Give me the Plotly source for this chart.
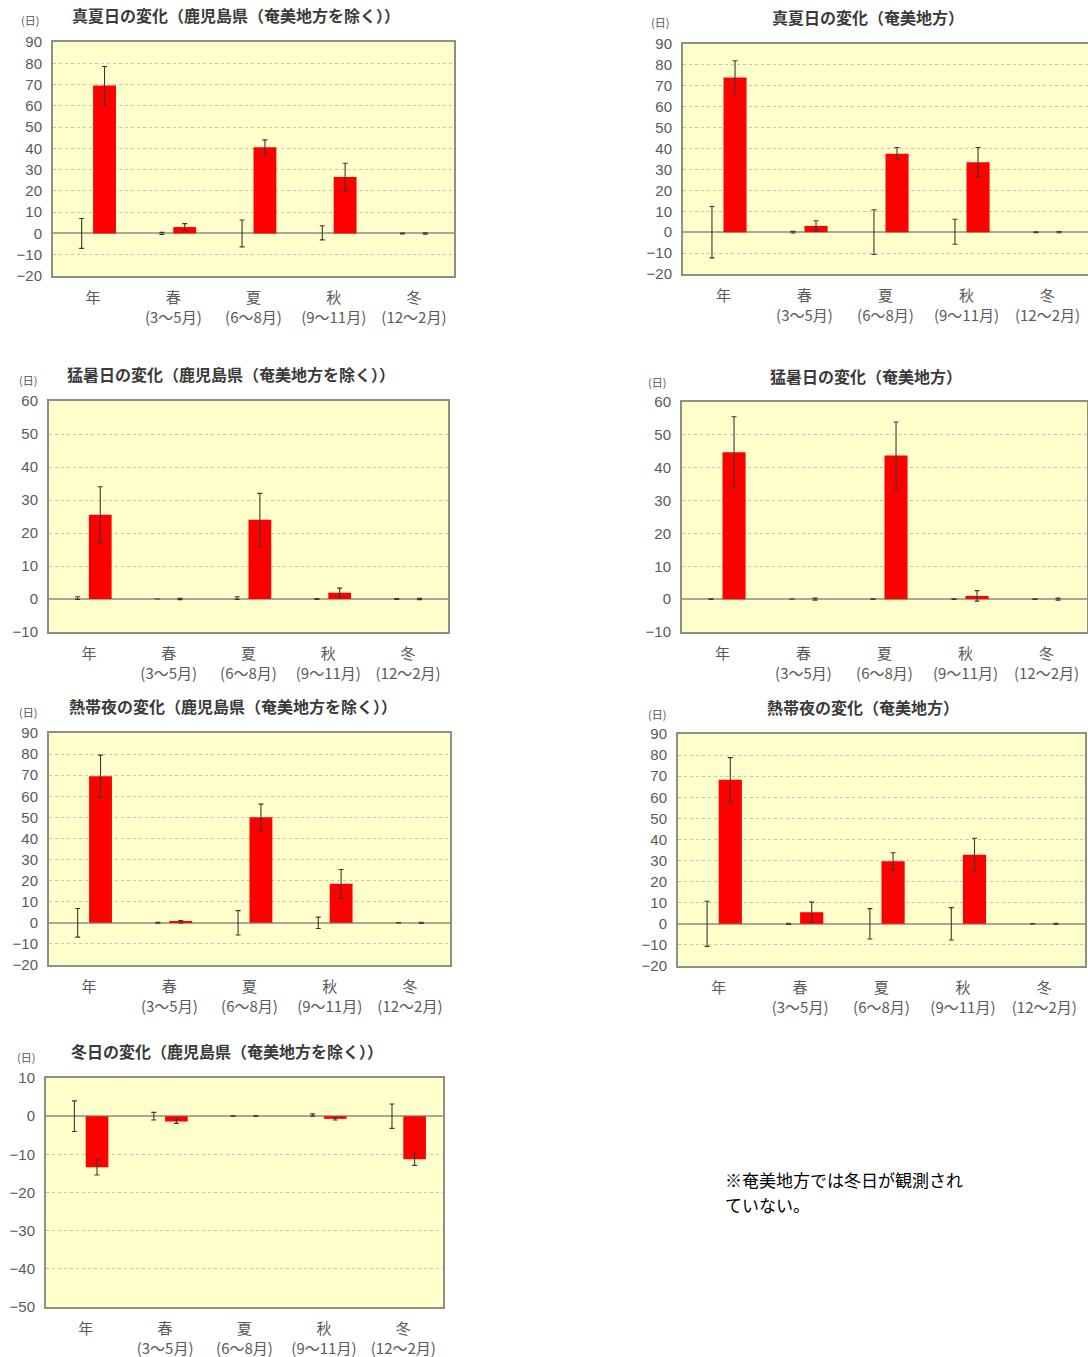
import plotly.graph_objects as go

# ---- categories (x axis) ----
categories = ["年", "春<br>(3～5月)", "夏<br>(6～8月)", "秋<br>(9～11月)", "冬<br>(12～2月)"]

# ---- 真夏日 : 鹿児島県（奄美地方を除く） ----
manatsu_kago_base = [0, 0, 0, 0.3, 0]
manatsu_kago_base_err = [7, 0.5, 6.3, 3.3, 0.2]
manatsu_kago_change = [69.5, 3, 40.5, 26.5, 0]
manatsu_kago_change_err = [9, 1.6, 3.5, 6.5, 0.3]

# ---- 真夏日 : 奄美地方 ----
manatsu_amami_base = [0, 0, 0, 0.2, 0]
manatsu_amami_base_err = [12.3, 0.4, 10.7, 6, 0.2]
manatsu_amami_change = [74, 3, 37.5, 33.5, 0]
manatsu_amami_change_err = [8, 2.5, 3, 7, 0.3]

# ---- 猛暑日 : 鹿児島県（奄美地方を除く） ----
mousho_kago_base = [0.3, 0, 0.3, 0, 0]
mousho_kago_base_err = [0.4, 0, 0.4, 0.1, 0.1]
mousho_kago_change = [25.5, 0, 24, 1.9, 0]
mousho_kago_change_err = [8.5, 0.2, 8, 1.4, 0.2]

# ---- 猛暑日 : 奄美地方 ----
mousho_amami_base = [0, 0, 0, 0, 0]
mousho_amami_base_err = [0.1, 0, 0.1, 0.1, 0.1]
mousho_amami_change = [44.7, 0, 43.7, 1, 0]
mousho_amami_change_err = [10.8, 0.3, 10.2, 1.6, 0.3]

# ---- 熱帯夜 : 鹿児島県（奄美地方を除く） ----
nettai_kago_base = [0, 0, 0, 0, 0]
nettai_kago_base_err = [6.8, 0.2, 5.8, 2.7, 0.1]
nettai_kago_change = [69.5, 0.5, 50, 18.5, 0]
nettai_kago_change_err = [10, 0.6, 6.3, 6.8, 0.3]

# ---- 熱帯夜 : 奄美地方 ----
nettai_amami_base = [0, 0, 0, 0, 0]
nettai_amami_base_err = [10.7, 0.3, 7.2, 7.7, 0.1]
nettai_amami_change = [68.3, 5.5, 29.7, 32.7, 0]
nettai_amami_change_err = [10.5, 4.8, 4, 7.9, 0.3]

# ---- 冬日 : 鹿児島県（奄美地方を除く） ----
fuyubi_kago_base = [0, 0, 0, 0.3, 0]
fuyubi_kago_base_err = [4, 1, 0.1, 0.3, 3.2]
fuyubi_kago_change = [-13.4, -1.4, 0, -0.7, -11.3]
fuyubi_kago_change_err = [2, 0.5, 0.1, 0.3, 1.6]

titles = [
    "真夏日の変化（鹿児島県（奄美地方を除く））",
    "真夏日の変化（奄美地方）",
    "猛暑日の変化（鹿児島県（奄美地方を除く））",
    "猛暑日の変化（奄美地方）",
    "熱帯夜の変化（鹿児島県（奄美地方を除く））",
    "熱帯夜の変化（奄美地方）",
    "冬日の変化（鹿児島県（奄美地方を除く））",
]
unit_label = "(日)"
note_lines = ["※奄美地方では冬日が観測され", "ていない。"]

series = [
    (manatsu_kago_base, manatsu_kago_base_err, manatsu_kago_change, manatsu_kago_change_err),
    (manatsu_amami_base, manatsu_amami_base_err, manatsu_amami_change, manatsu_amami_change_err),
    (mousho_kago_base, mousho_kago_base_err, mousho_kago_change, mousho_kago_change_err),
    (mousho_amami_base, mousho_amami_base_err, mousho_amami_change, mousho_amami_change_err),
    (nettai_kago_base, nettai_kago_base_err, nettai_kago_change, nettai_kago_change_err),
    (nettai_amami_base, nettai_amami_base_err, nettai_amami_change, nettai_amami_change_err),
    (fuyubi_kago_base, fuyubi_kago_base_err, fuyubi_kago_change, fuyubi_kago_change_err),
]
y_ranges = [[-20, 90], [-20, 90], [-10, 60], [-10, 60], [-20, 90], [-20, 90], [-50, 10]]

# ---- page geometry (pixels) ----
W, H = 1088, 1357
# plot boxes: left, right, top, bottom
boxes = [
    (53, 454, 42, 276),
    (683, 1088, 44, 274),
    (49, 448, 401, 632),
    (682, 1087, 402, 632),
    (49, 450, 733, 965),
    (678, 1085, 734, 966),
    (46, 443, 1078, 1307),
]
title_pos = [(236, 15), (868, 17), (231, 374), (866, 376), (233, 706), (863, 707), (227, 1051)]
unit_pos = [(30, 20), (660, 22), (28, 380), (657, 382), (28, 712), (657, 714), (26, 1057)]
note_pos = [(723, 1179), (723, 1204)]


def fx(x):
    return x / W


def fy(y):
    return 1 - y / H


fig = go.Figure()
annotations = []
layout = {}

err_style = dict(type="data", symmetric=True, color="#3a3a30", thickness=1.1, width=2.5)

for i, ((base, base_err, change, change_err), box) in enumerate(zip(series, boxes)):
    n = i + 1
    xa = "x" if n == 1 else f"x{n}"
    ya = "y" if n == 1 else f"y{n}"
    fig.add_trace(go.Bar(
        x=categories, y=base, xaxis=xa, yaxis=ya,
        marker=dict(color="rgba(0,0,0,0)", line=dict(width=0)),
        error_y=dict(array=base_err, **err_style),
        showlegend=False, hoverinfo="skip",
    ))
    fig.add_trace(go.Bar(
        x=categories, y=change, xaxis=xa, yaxis=ya,
        marker=dict(color="#ff0000", line=dict(width=0)),
        error_y=dict(array=change_err, **err_style),
        showlegend=False,
    ))
    l, r, t, b = box
    ax_common = dict(showline=True, mirror=True, linecolor="#8f8f86", linewidth=2,
                     automargin=False, fixedrange=True)
    layout[f"xaxis{'' if n == 1 else n}"] = dict(
        domain=[fx(l), fx(r)], anchor=ya,
        tickfont=dict(family="Noto Sans CJK JP", size=15, color="#5a5a5a"),
        ticks="", ticklabelstandoff=7, tickangle=0, showgrid=False, **ax_common,
    )
    layout[f"yaxis{'' if n == 1 else n}"] = dict(
        domain=[fy(b), fy(t)], anchor=xa, range=y_ranges[i], dtick=10,
        tickfont=dict(family="Liberation Sans", size=15, color="#5a5a5a"),
        ticks="", ticklabelstandoff=6,
        showgrid=True, gridcolor="#c6c6b0", gridwidth=1, griddash="3px,3px",
        zeroline=True, zerolinecolor="#a9a894", zerolinewidth=1.5,
        **ax_common,
    )
    # yellow plotting area
    fig.add_shape(type="rect", xref="paper", yref="paper",
                  x0=fx(l), x1=fx(r), y0=fy(b), y1=fy(t),
                  fillcolor="#ffffcc", line=dict(width=0), layer="below")
    tx, ty = title_pos[i]
    annotations.append(dict(
        x=fx(tx), y=fy(ty), xref="paper", yref="paper", text=f"<b>{titles[i]}</b>",
        showarrow=False, xanchor="center", yanchor="middle",
        font=dict(family="Noto Sans CJK JP", size=16, color="#3a3a3a"),
    ))
    ux, uy = unit_pos[i]
    annotations.append(dict(
        x=fx(ux), y=fy(uy), xref="paper", yref="paper", text=unit_label,
        showarrow=False, xanchor="center", yanchor="middle",
        font=dict(family="Noto Sans CJK JP", size=11, color="#555555"),
    ))

for line, (nx, ny) in zip(note_lines, note_pos):
    annotations.append(dict(
        x=fx(nx), y=fy(ny), xref="paper", yref="paper", text=line,
        showarrow=False, xanchor="left", yanchor="middle", align="left",
        font=dict(family="Noto Sans CJK JP", size=17, color="#000000"),
    ))

fig.update_layout(
    width=W, height=H, margin=dict(l=0, r=0, t=0, b=0, autoexpand=False),
    paper_bgcolor="white", plot_bgcolor="rgba(0,0,0,0)",
    barmode="group", bargap=0.43, bargroupgap=0,
    annotations=annotations, showlegend=False,
    **layout,
)

fig.write_html("out.html")
